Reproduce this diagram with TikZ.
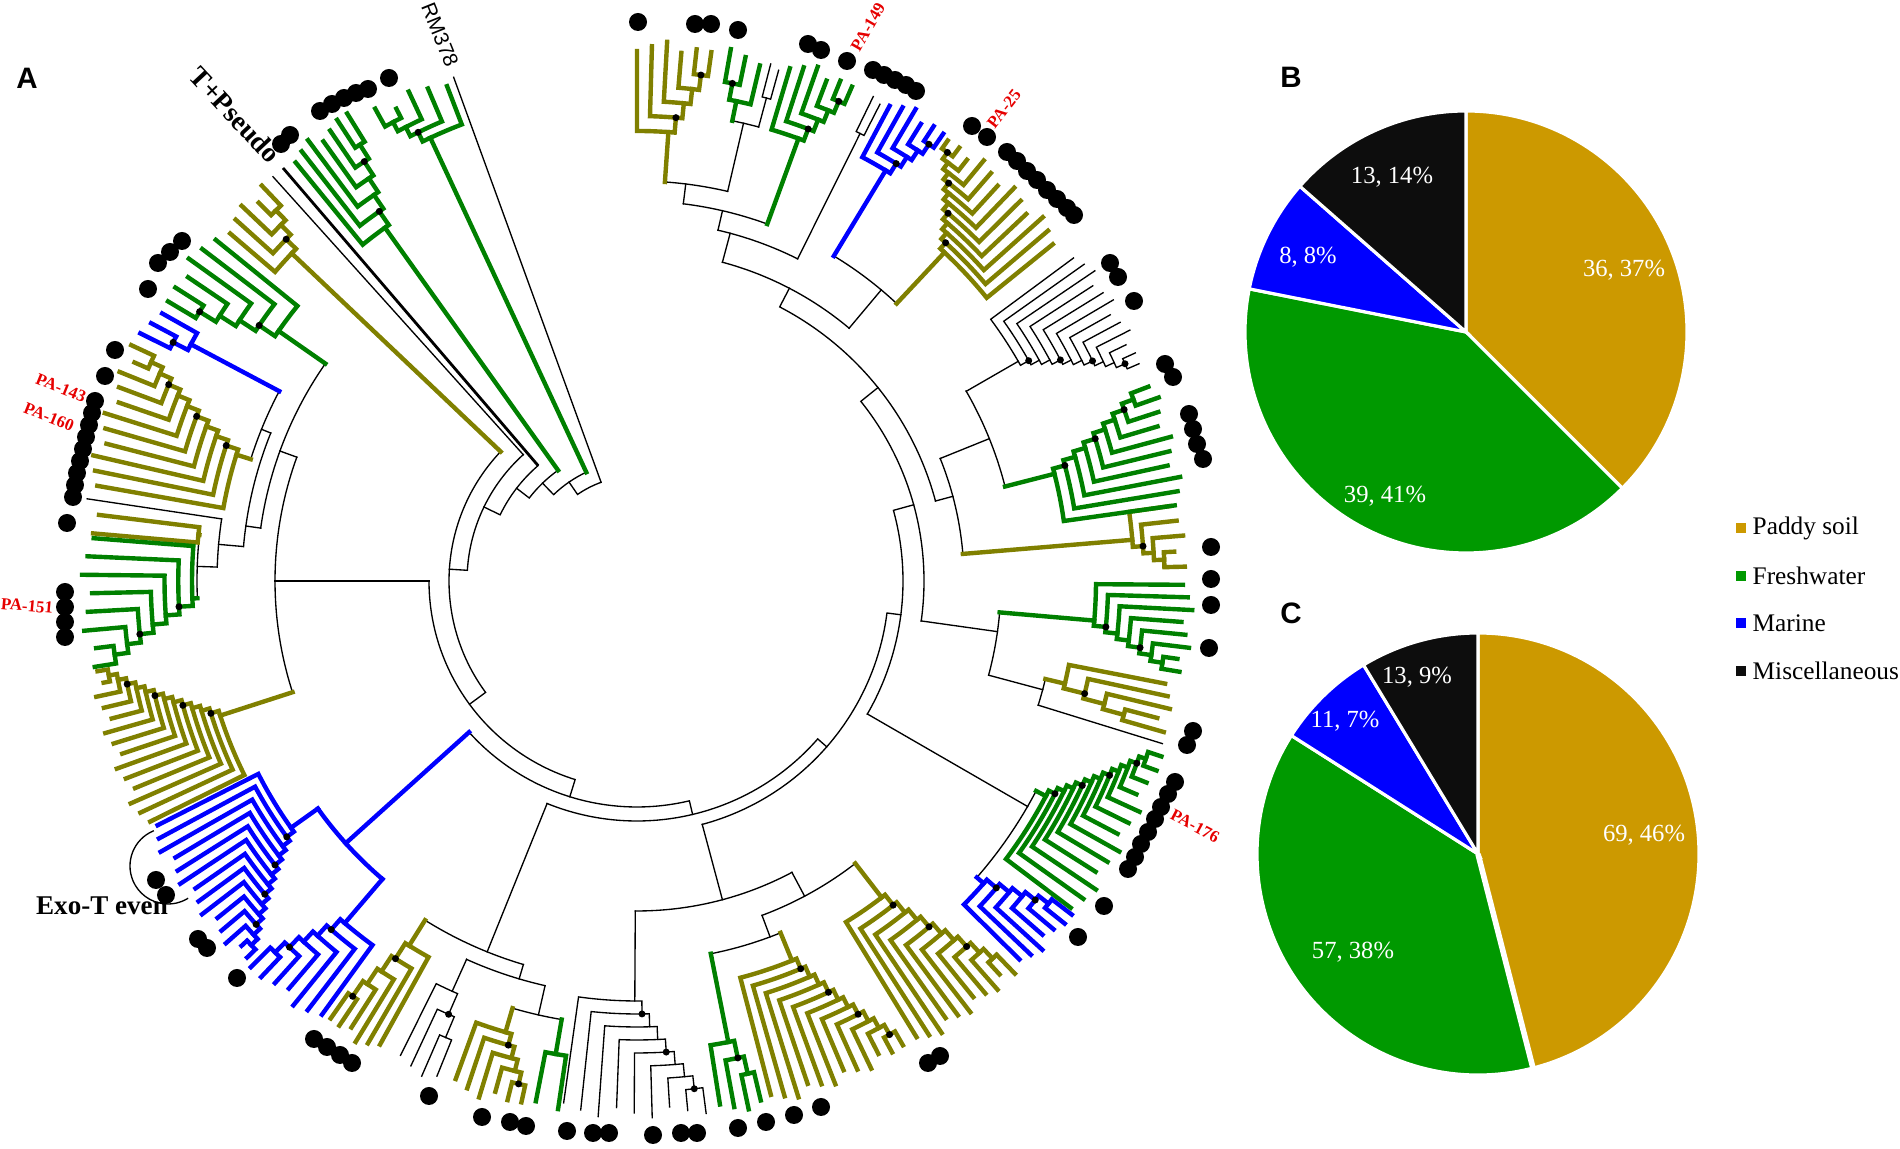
\documentclass[tikz,border=0pt]{standalone}
\usepackage{fontspec}
\setmainfont{Liberation Serif}
\setsansfont{Liberation Sans}
\usetikzlibrary{calc}
\definecolor{paddyc}{RGB}{128,128,0}
\definecolor{freshc}{RGB}{0,128,0}
\definecolor{marinec}{RGB}{0,0,255}
\definecolor{piepaddy}{RGB}{204,153,0}
\definecolor{piefresh}{RGB}{0,153,0}
\definecolor{piemisc}{RGB}{13,13,13}
\definecolor{palabel}{RGB}{230,0,0}
% ladder clade: [style](first angle:last angle:tips)(parent r:base r:tip r)
\def\clade[#1](#2:#3:#4)(#5:#6:#7){%
  \pgfmathsetmacro\cA{#2}\pgfmathsetmacro\cB{#3}%
  \pgfmathtruncatemacro\cN{#4}\pgfmathtruncatemacro\cM{#4-1}%
  \pgfmathsetmacro\cMid{(\cA+\cB)/2}%
  \pgfmathsetmacro\cStep{(\cB-\cA)/\cM}%
  \pgfmathsetmacro\cDr{(#7-#6)/\cN}%
  \draw[#1] (\cMid:#5) -- (\cMid:#6);
  \foreach \k in {1,...,\cM}{%
    \pgfmathsetmacro\tipA{\cA+(\k-1)*\cStep}%
    \pgfmathsetmacro\nodM{(\tipA+\cB)/2}%
    \pgfmathsetmacro\nxtM{(\cA+\k*\cStep+\cB)/2}%
    \pgfmathsetmacro\nodR{#6+(\k-1)*\cDr}%
    \pgfmathsetmacro\nxtR{\k<\cM ? #6+\k*\cDr : #7-mod(\k,2)*6}%
    \pgfmathsetmacro\tipR{#7-mod(\k*5,3)*5}%
    \draw[#1] (\tipA:\tipR) -- (\tipA:\nodR) arc[start angle=\tipA, end angle=\nxtM, radius=\nodR] -- (\nxtM:\nxtR);
    \pgfmathtruncatemacro\dodot{mod(\k,3)==2}%
    \ifnum\dodot=1 \fill[black] (\nodM:\nodR) circle[radius=3.5];\fi
  }%
}
\def\pieslice[#1](#2)(#3:#4:#5){\filldraw[fill=#1, draw=white, line width=0.9pt] (#2) -- ++(#3:#5) arc (#3:#4:#5) -- cycle;}

\begin{document}
\begin{tikzpicture}[x=0.01cm, y=0.01cm,
  thinb/.style={black, line width=0.38pt, line cap=rect},
  paddy/.style={paddyc, line width=1.25pt, line cap=rect},
  fresh/.style={freshc, line width=1.25pt, line cap=rect},
  marine/.style={marinec, line width=1.25pt, line cap=rect},
  tiplbl/.style={text=palabel, font=\bfseries\fontsize{4.8}{5}\selectfont, inner sep=0pt},
  pielbl/.style={text=white, font=\fontsize{7}{8}\selectfont, inner sep=0pt},
  leglbl/.style={anchor=west, font=\fontsize{7.2}{8}\selectfont, inner sep=0pt},
  legsq/.style={minimum size=0.1cm, inner sep=0pt},
  panel/.style={font=\sffamily\bfseries\fontsize{8.4}{10}\selectfont, inner sep=0pt}]
\useasboundingbox (0,0) rectangle (1900,1149);

%%%%% TREE %%%%%
\begin{scope}[shift={(637,568)}]
  % backbone ladder
  \draw[thinb] (110:105) -- (110:536);
  \draw[thinb] (110:105) arc[start angle=110, end angle=124.5, radius=105] -- (124.5:120);
  \draw[thinb] (115:120) arc[start angle=115, end angle=134, radius=120] -- (134:136);
  \draw[thinb] (125.5:136) arc[start angle=125.5, end angle=142.4, radius=136] -- (142.4:152);
  \draw[thinb] (130.6:152) arc[start angle=130.6, end angle=154.2, radius=152] -- (154.2:170);
  \draw[thinb] (132:170) arc[start angle=132, end angle=176.4, radius=170] -- (176.4:188);
  \draw[thinb] (136.5:188) arc[start angle=136.5, end angle=216.35, radius=188] -- (216.35:208);
  \draw[thinb] (180:208) arc[start angle=180, end angle=252.7, radius=208] -- (252.7:226);
  \draw[thinb] (222:226) arc[start angle=222, end angle=283.4, radius=226] -- (283.4:240);
  \draw[thinb] (248:240) arc[start angle=248, end angle=318.85, radius=240] -- (318.85:252);
  \draw[thinb] (285:252) arc[start angle=285, end angle=352.7, radius=252] -- (352.7:266);
  \draw[thinb] (330:266) arc[start angle=330, end angle=375.4, radius=266] -- (375.4:287);
  \draw[thinb] (352:287) arc[start angle=352, end angle=398.75, radius=287] -- (398.75:309);
  \draw[thinb] (375:309) arc[start angle=375, end angle=422.5, radius=309] -- (422.5:330);
  \draw[thinb] (410:330) arc[start angle=410, end angle=435, radius=330];

  % top left
  \clade[fresh](111:119:5)(120:489:540)
  \clade[fresh](129.2:121.8:7)(136:434:550)
  \draw[black, line width=0.8pt] (130.6:152) -- (130.6:544);
  \draw[thinb] (132:170) -- (132:544);
  \clade[paddy](139.5:133.5:5)(188:476:545)

  % left
  \draw[thinb] (180:208) -- (180:362);
  \draw[thinb] (160:362) arc[start angle=160, end angle=197.9, radius=362];
  \clade[paddy](206.3:189.5:14)(362:438:553)
  \draw[thinb] (160:362) -- (160:380);
  \draw[thinb] (145.1:380) arc[start angle=145.1, end angle=172, radius=380];
  \clade[fresh](141:149.2:6)(380:437:552)
  \draw[thinb] (172:380) -- (172:395);
  \draw[thinb] (158:395) arc[start angle=158, end angle=175, radius=395];
  \draw[thinb] (158:395) -- (158:405);
  \draw[thinb] (152.05:405) arc[start angle=152.05, end angle=162.5, radius=405];
  \clade[marine](150.6:153.5:3)(405:505:555)
  \clade[paddy](170:155:11)(405:420:558)
  \draw[thinb] (175:395) -- (175:420);
  \draw[thinb] (171.5:420) arc[start angle=171.5, end angle=178.1, radius=420];
  \draw[thinb] (171.5:420) -- (171.5:556);
  \draw[thinb] (178.1:420) -- (178.1:440);
  \draw[thinb] (174:440) arc[start angle=174, end angle=182.25, radius=440];
  \clade[paddy](173:175:2)(440:441:552)
  \clade[fresh](175.5:189:8)(440:445:555)

  % lower left, marine
  \draw[marine] (222:226) -- (222:392);
  \draw[marine] (215.5:392) arc[start angle=215.5, end angle=229.5, radius=392];
  \clade[marine](207:224:14)(392:425:548)
  \clade[marine](234:225:7)(392:450:546)

  % bottom left
  \draw[thinb] (248:240) -- (248:400);
  \draw[thinb] (238:400) arc[start angle=238, end angle=253.5, radius=400];
  \clade[paddy](241:235:6)(400:430:540)
  \draw[thinb] (253.5:400) -- (253.5:415);
  \draw[thinb] (245.75:415) arc[start angle=245.75, end angle=257.2, radius=415];
  \clade[thinb](243.5:248:4)(415:450:540)
  \draw[thinb] (257.2:415) -- (257.2:445);
  \draw[thinb] (253.75:445) arc[start angle=253.75, end angle=260.25, radius=445];
  \clade[paddy](250:257.5:6)(445:470:540)
  \clade[fresh](259:261.5:2)(445:480:540)

  % bottom
  \draw[thinb] (285:252) -- (285:330);
  \draw[thinb] (269.7:330) arc[start angle=269.7, end angle=298, radius=330];
  \clade[thinb](262:277.4:9)(330:420:537)
  \draw[thinb] (298:330) -- (298:357);
  \draw[thinb] (290.5:357) arc[start angle=290.5, end angle=307.7, radius=357];
  \draw[thinb] (290.5:357) -- (290.5:380);
  \draw[thinb] (281.2:380) arc[start angle=281.2, end angle=292.2, radius=380];
  \clade[fresh](279:283.4:4)(380:470:540)
  \clade[paddy](284.6:299.8:12)(380:410:541)
  \clade[paddy](301.5:313.9:11)(357:400:545)

  % lower right
  \draw[thinb] (330:266) -- (330:451);
  \draw[thinb] (318.9:451) arc[start angle=318.9, end angle=332.25, radius=451];
  \clade[marine](315.3:322.5:7)(451:460:548)
  \clade[fresh](323:341.5:13)(451:462:553)

  % right
  \draw[thinb] (352:287) -- (352:364);
  \draw[thinb] (345:364) arc[start angle=345, end angle=355.05, radius=364];
  \draw[thinb] (345:364) -- (345:420);
  \draw[thinb] (342.8:420) arc[start angle=342.8, end angle=346.5, radius=420];
  \draw[thinb] (342.8:420) -- (342.8:550);
  \clade[paddy](349:344:5)(420:440:548)
  \clade[fresh](359.6:350.5:8)(364:459:556)

  % upper right
  \draw[thinb] (375:309) -- (375:327);
  \draw[thinb] (364.75:327) arc[start angle=364.75, end angle=382, radius=327];
  \clade[paddy](368:361.5:5)(327:497:548)
  \draw[thinb] (382:327) -- (382:380);
  \draw[thinb] (374.4:380) arc[start angle=374.4, end angle=390, radius=380];
  \clade[fresh](368:380.8:10)(380:431:553)
  \clade[thinb](396.5:383.4:12)(380:440:553)

  % top right
  \draw[thinb] (410:330) -- (410:380);
  \draw[thinb] (406.9:380) arc[start angle=406.9, end angle=418.8, radius=380];
  \clade[paddy](399:414.8:12)(380:450:545)
  \clade[marine](422:415.6:6)(380:480:548)
  \draw[thinb] (435:330) -- (435:360);
  \draw[thinb] (423.5:360) arc[start angle=423.5, end angle=437, radius=360];
  \clade[thinb](423:424:2)(360:500:545)
  \draw[thinb] (437:360) -- (437:380);
  \draw[thinb] (429.95:380) arc[start angle=429.95, end angle=443, radius=380];
  \clade[fresh](433.4:426.5:6)(380:471:545)
  \draw[thinb] (443:380) -- (443:400);
  \draw[thinb] (436.9:400) arc[start angle=436.9, end angle=446, radius=400];
  \clade[paddy](450:442:6)(400:450:540)
  \draw[thinb] (436.9:400) -- (436.9:470);
  \draw[thinb] (435:470) arc[start angle=435, end angle=438.3, radius=470];
  \clade[thinb](434.5:435.5:2)(470:500:540)
  \clade[fresh](436.6:440:3)(470:490:540)
\end{scope}

% tip markers
\foreach \x/\y in {389/78, 320/111, 332/104, 344/98, 356/93, 368/89, 281/144, 290/135,
  158/263, 170/252, 182/241, 148/289, 115/350, 105/376,
  95/401, 92/413, 89/425, 86/437, 83/449, 80/461, 77/473, 75/485, 73/497, 67/523,
  65/592, 65/607, 65/622, 65/637, 156/880, 166/895, 198/939, 207/948, 237/978,
  314/1039, 327/1047, 340/1055, 352/1063, 429/1096, 482/1117, 510/1122, 526/1126,
  567/1131, 593/1133, 609/1133, 653/1135, 681/1133, 697/1133,
  738/1128, 766/1122, 794/1115, 821/1107, 928/1063, 940/1056, 1078/937, 1104/906,
  1128/869, 1135/857, 1141/844, 1148/832, 1155/819, 1161/807, 1168/794, 1175/782,
  1187/745, 1193/731, 1209/648, 1211/605, 1211/579, 1211/547,
  1189/414, 1193/429, 1197/444, 1203/459, 1165/364, 1173/377, 1134/301, 1110/263, 1118/277,
  1007/152, 1017/161, 1027/171, 1037/180, 1047/190, 1057/199, 1067/208, 1074/215,
  972/126, 987/137, 873/70, 884/75, 895/80, 906/85, 916/91,
  847/61, 808/44, 821/50, 738/30, 695/24, 711/24, 638/22}
  \fill (\x,{1149-\y}) circle[radius=9];

% tree labels
\node[panel] (labA) at (27,1071) {A};
\node[font=\sffamily\fontsize{5.9}{7}\selectfont, rotate=-68, inner sep=0pt] (rmlab) at (440,1114) {RM378};
\node[font=\bfseries\fontsize{7.9}{9}\selectfont, rotate=-47, inner sep=0pt] (tplab) at (235,1034) {T+Pseudo};
\node[font=\bfseries\fontsize{7.7}{9}\selectfont, inner sep=0pt] (exolab) at (102,243) {Exo-T even};
\draw[thinb] (168,283) ++(113:38) arc[start angle=113, end angle=301, radius=38];
\node[tiplbl, rotate=60] (pa149) at (868,1122) {PA-149};
\node[tiplbl, rotate=52] (pa25) at (1004,1040) {PA-25};
\node[tiplbl, rotate=-22] (pa143) at (61,761) {PA-143};
\node[tiplbl, rotate=-22] (pa160) at (49,732) {PA-160};
\node[tiplbl, rotate=-5] (pa151) at (27,543) {PA-151};
\node[tiplbl, rotate=-28] (pa176) at (1195,323) {PA-176};

%%%%% PIES %%%%%
\node[panel] (labB) at (1291,1072) {B};
\coordinate (pieB) at (1466,817);
\pieslice[piepaddy](pieB)(90:-45:221)
\pieslice[piefresh](pieB)(-45:-191.25:221)
\pieslice[marinec](pieB)(-191.25:-221.25:221)
\pieslice[piemisc](pieB)(-221.25:-270:221)
\node[pielbl] (bmisc) at (1392,972) {13, 14\%};
\node[pielbl] (bmar) at (1308,892) {8, 8\%};
\node[pielbl] (bpad) at (1624,879) {36, 37\%};
\node[pielbl] (bfre) at (1385,653) {39, 41\%};

\node[panel] (labC) at (1291,536) {C};
\coordinate (pieC) at (1478,295);
\pieslice[piepaddy](pieC)(90:-75.6:221)
\pieslice[piefresh](pieC)(-75.6:-212.4:221)
\pieslice[marinec](pieC)(-212.4:-238.8:221)
\pieslice[piemisc](pieC)(-238.8:-270:221)
\draw[white, line width=1.6pt] (pieC) -- ++(-75.6:221);
\node[pielbl] (cmisc) at (1417,472) {13, 9\%};
\node[pielbl] (cmar) at (1345,428) {11, 7\%};
\node[pielbl] (cpad) at (1644,314) {69, 46\%};
\node[pielbl] (cfre) at (1353,197) {57, 38\%};

% legend
\node[legsq, fill=piepaddy] (sqpad) at (1741,621) {};
\node[legsq, fill=piefresh] (sqfre) at (1741,573) {};
\node[legsq, fill=marinec] (sqmar) at (1741,526) {};
\node[legsq, fill=piemisc] (sqmis) at (1741,478) {};
\node[leglbl] (lgpad) at (1752,621) {Paddy soil};
\node[leglbl] (lgfre) at (1752,573) {Freshwater};
\node[leglbl] (lgmar) at (1752,526) {Marine};
\node[leglbl] (lgmis) at (1752,478) {Miscellaneous};
\end{tikzpicture}
\end{document}
